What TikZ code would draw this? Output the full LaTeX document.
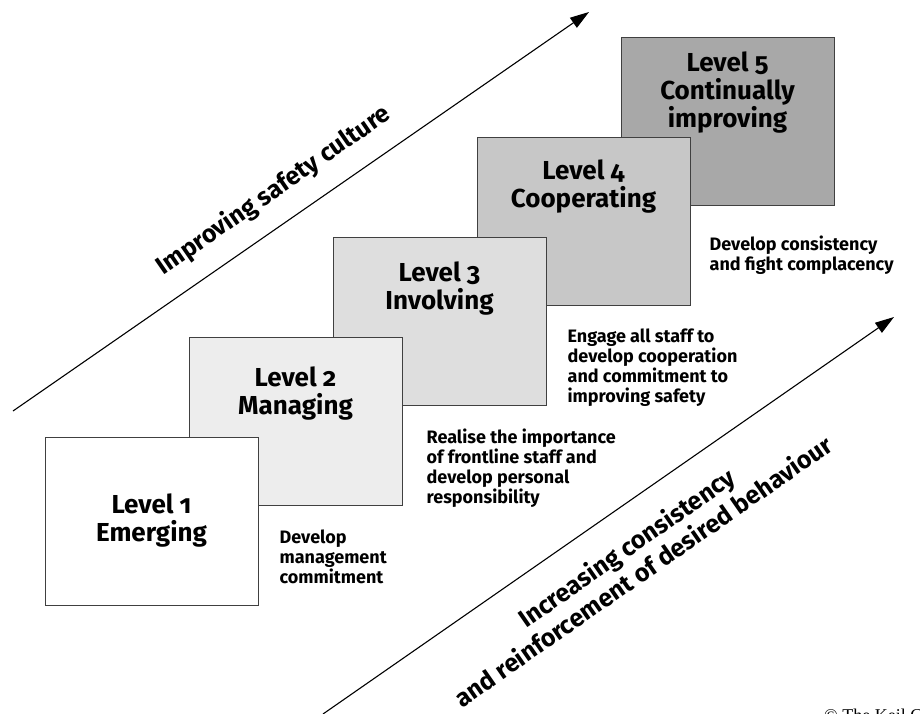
\documentclass[tikz,border=0pt]{standalone}
\usepackage{fontspec}
\setmainfont{Fira Sans}[Numbers=OldStyle]
\newfontfamily\notefont{Liberation Serif}
\usetikzlibrary{arrows.meta,positioning}

\begin{document}
\begin{tikzpicture}[x=1pt,y=-1pt,
    levelbox/.style={draw=black!75, line width=0.9pt, minimum width=213pt, minimum height=168pt, inner sep=0pt},
    levellabel/.style={font=\bfseries\fontsize{26}{28}\selectfont, align=center, inner sep=0pt},
    desc/.style={font=\bfseries\fontsize{18}{20}\selectfont, align=left, inner sep=0pt, anchor=north west},
    trend/.style={line width=1.1pt, -{Triangle[length=19pt,width=12pt]}},
    trendlabel/.style={font=\bfseries\fontsize{25}{29}\selectfont, align=center, inner sep=0pt, sloped}]
    \useasboundingbox (0,0) rectangle (920,714);
    % Boxes, back to front
    \foreach \k/\shade in {5/black!34, 4/black!22, 3/black!13, 2/black!7, 1/white}
        \node[levelbox, fill=\shade] (b\k) at ({151.5+144*(\k-1)},{521-100*(\k-1)}) {};
    % Level names
    \node[levellabel] (l1) at (b1) {Level 1\\Emerging};
    \node[levellabel, anchor=north] (l2) at ([yshift=-30pt]b2.north) {Level 2\\Managing};
    \node[levellabel, anchor=north] (l3) at ([yshift=-25pt]b3.north) {Level 3\\Involving};
    \node[levellabel, anchor=north] (l4) at ([yshift=-23pt]b4.north) {Level 4\\Cooperating};
    \node[levellabel, anchor=north] (l5) at ([yshift=-15pt]b5.north) {Level 5\\Continually\\improving};
    % What each step takes
    \node[desc] (d1) at ([xshift=21pt,yshift=76pt]b1.south east) {Develop\\management\\commitment};
    \node[desc] (d2) at ([xshift=24pt,yshift=77pt]b2.south east) {Realise the importance\\of frontline staff and\\develop personal\\responsibility};
    \node[desc] (d3) at ([xshift=21pt,yshift=77pt]b3.south east) {Engage all staff to\\develop cooperation\\and commitment to\\improving safety};
    \node[desc] (d4) at ([xshift=19pt,yshift=70pt]b4.south east) {Develop consistency\\and fight complacency};
    % Trend arrows
    \coordinate (u1) at (13,411);
    \coordinate (u2) at (589,12);
    \draw[trend] (u1) -- (u2) node[trendlabel, pos=0.485, above=19pt] (t1) {Improving safety culture};
    \coordinate (w1) at (323,714);
    \coordinate (w2) at (894,317);
    \draw[trend] (w1) -- (w2) node[trendlabel, pos=0.495, below=25pt] (t2) {Increasing consistency\\and reinforcement of desired behaviour};
    % Credit
    \node[font=\notefont\fontsize{18}{20}\selectfont, anchor=base west, inner sep=0pt] (credit) at (824,721) {© The Keil Centre};
\end{tikzpicture}
\end{document}
